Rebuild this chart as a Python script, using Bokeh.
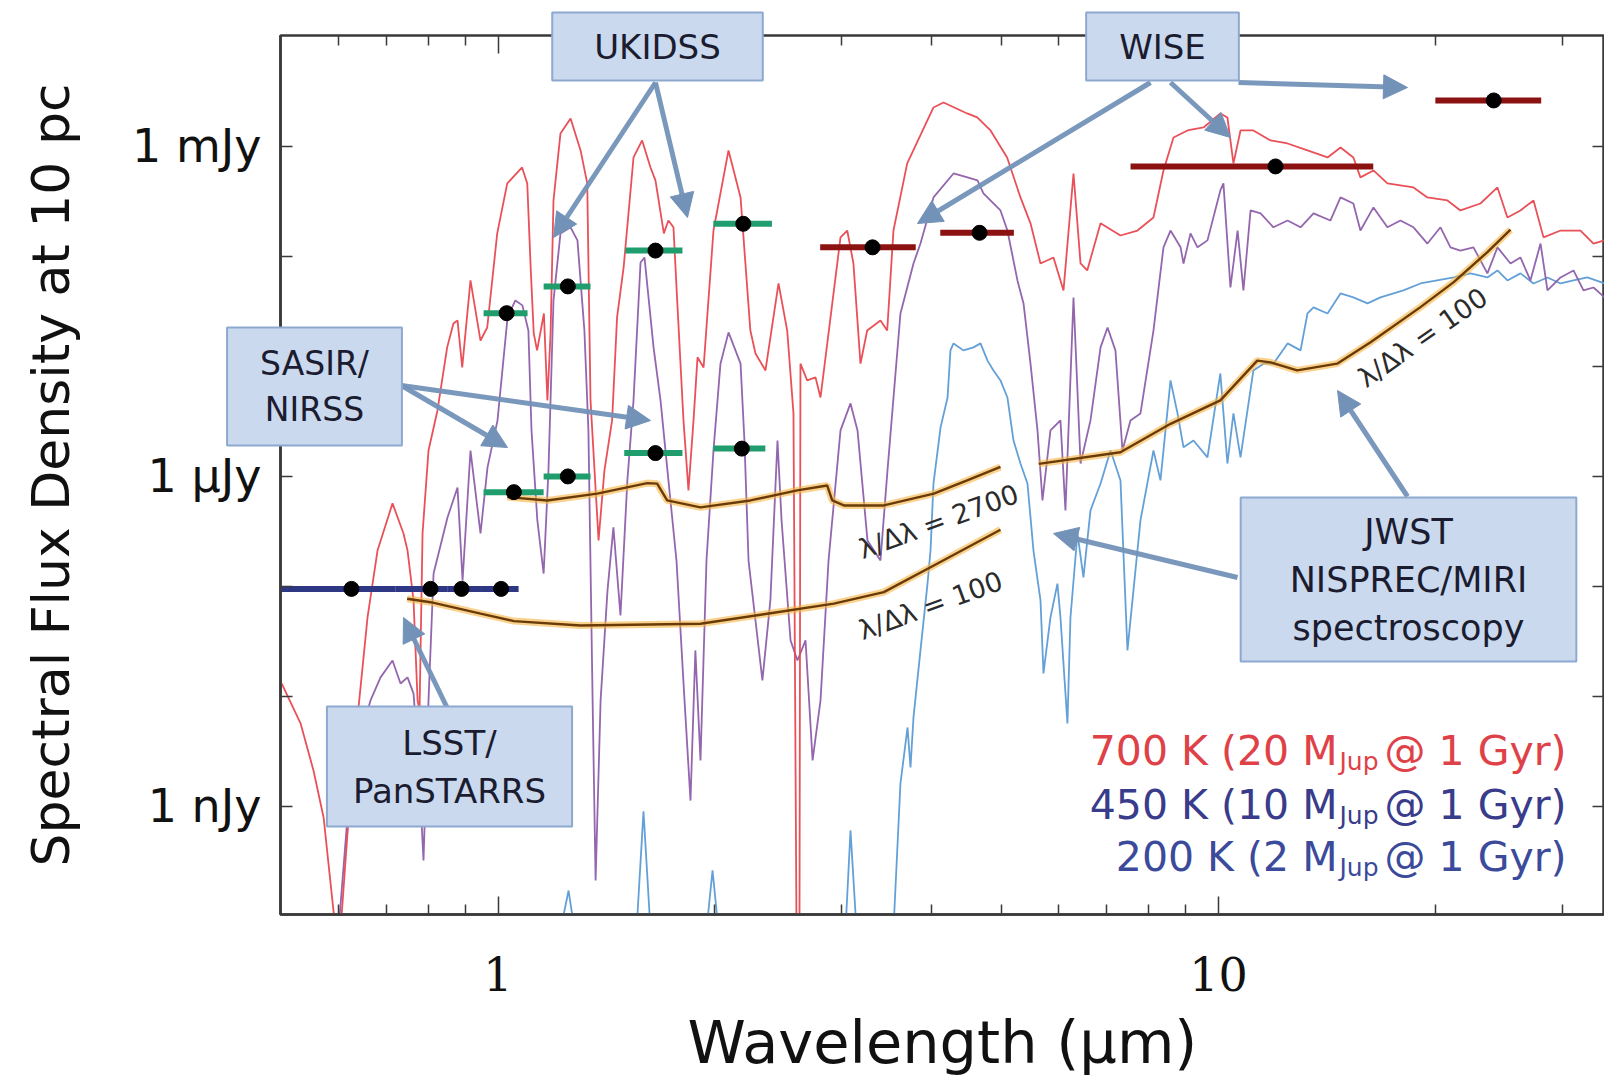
import math
from bokeh.plotting import figure
from bokeh.models import (Range1d, LogAxis, FixedTicker, CustomJSTickFormatter,
                          Label, Arrow, NormalHead, GridBox, Row)
from bokeh.embed import file_html
from bokeh.resources import INLINE

# ---------------- data (wavelength in micron, flux density in microJy) -------------
red_wl = [0.501, 0.532, 0.5545, 0.5727, 0.5856, 0.595, 0.6046, 0.6181, 0.6383, 0.659,
          0.6804, 0.7138, 0.7393, 0.7489, 0.7634, 0.7733, 0.7782, 0.7857, 0.8008, 0.8241,
          0.850, 0.8672, 0.8786, 0.8919, 0.9158, 0.9456, 0.9661, 0.9975, 1.030, 1.080,
          1.098, 1.110, 1.121, 1.133, 1.158, 1.171, 1.183, 1.194, 1.221, 1.261,
          1.302, 1.330, 1.344, 1.379, 1.405, 1.440, 1.463, 1.494, 1.542, 1.585,
          1.628, 1.654, 1.699, 1.724, 1.752, 1.773, 1.809, 1.838, 1.868, 1.892,
          1.929, 1.991, 2.089, 2.171, 2.240, 2.277, 2.351, 2.451, 2.520, 2.571,
          2.596, 2.621, 2.629, 2.686, 2.759, 2.803, 2.988, 3.053, 3.114, 3.185,
          3.254, 3.395, 3.469, 3.539, 3.698, 4.022, 4.153, 4.479, 4.625, 4.826,
          5.089, 5.311, 5.484, 5.662, 5.902, 6.094, 6.292, 6.435, 6.574, 6.860,
          7.311, 7.719, 8.124, 8.388, 8.661, 9.057, 9.533, 10.06, 10.29, 10.49,
          10.73, 11.18, 11.81, 12.47, 13.29, 14.17, 14.77, 15.39, 15.74, 16.41,
          17.16, 18.65, 19.50, 20.79, 21.67, 23.10, 24.39, 25.18, 26.25, 27.37,
          28.26, 29.84, 31.80, 33.15, 34.35]
red_flux = [0.0131, 0.00569, 0.00212, 0.000794, 0.0002, 7.5e-5, 7.5e-5, 0.000569, 0.00644, 0.0522,
            0.212, 0.569, 0.303, 0.212, 0.0746, 0.0092, 0.00746, 0.303, 1.72, 3.98,
            14.9, 24.6, 26.2, 9.79, 60.5, 17.2, 22.6, 162, 461, 644,
            461, 79.4, 20.0, 14.0, 30.3, 4.91, 20.0, 323, 1313, 1797,
            920, 461, 4.91, 0.262, 1.13, 3.23, 27.9, 79.4, 794, 1134,
            644, 491, 162, 212, 184, 39.8, 3.23, 0.746, 3.23, 12.1,
            9.79, 172, 920, 344, 21.2, 13.1, 9.2, 56.8, 21.2, 3.74,
            7.5e-5, 7.5e-5, 10.6, 7.46, 7.94, 5.22, 149, 172, 86.3, 10.6,
            21.2, 26.2, 21.2, 172, 701, 2262, 2512, 1995, 1835, 1398,
            794, 344, 200, 86.3, 97.9, 49.1, 568, 86.3, 74.6, 200,
            155, 172, 226, 605, 1207, 1398, 1488, 1995, 1835, 701,
            1398, 1398, 1134, 1064, 920, 794, 979, 794, 523, 605,
            461, 424, 344, 323, 262, 303, 424, 226, 262, 323,
            149, 172, 172, 131, 140]

purple_wl = [0.6007, 0.6181, 0.6444, 0.6653, 0.6870, 0.7138, 0.7323, 0.7489, 0.7634, 0.7757,
             0.7881, 0.8008, 0.8139, 0.8509, 0.8786, 0.8929, 0.9158, 0.9456, 0.9670, 0.9984,
             1.031, 1.057, 1.081, 1.102, 1.113, 1.134, 1.157, 1.175, 1.194, 1.221,
             1.261, 1.289, 1.318, 1.335, 1.353, 1.366, 1.388, 1.419, 1.446, 1.479,
             1.512, 1.542, 1.577, 1.597, 1.644, 1.681, 1.724, 1.769, 1.815, 1.850,
             1.879, 1.910, 1.947, 1.991, 2.036, 2.089, 2.171, 2.198, 2.227, 2.277,
             2.328, 2.388, 2.443, 2.475, 2.547, 2.604, 2.672, 2.733, 2.803, 2.876,
             2.988, 3.085, 3.155, 3.257, 3.395, 3.472, 3.619, 3.773, 3.858, 4.022,
             4.288, 4.483, 4.629, 4.718, 4.982, 5.094, 5.260, 5.363, 5.484, 5.608,
             5.698, 5.845, 6.035, 6.132, 6.292, 6.435, 6.643, 6.860, 7.015, 7.194,
             7.358, 7.548, 7.793, 8.124, 8.388, 8.579, 8.859, 8.943, 9.145, 9.352,
             9.654, 10.06, 10.16, 10.39, 10.63, 10.83, 11.08, 11.44, 11.92, 12.47,
             13.00, 13.55, 14.30, 14.77, 15.39, 15.74, 16.41, 17.16, 17.89, 18.65,
             19.50, 20.33, 20.99, 21.67, 22.59, 23.62, 24.39, 25.43, 26.25, 27.10,
             27.99, 28.62, 29.84, 31.10, 32.11, 33.15, 34.35]
purple_flux = [7.5e-5, 0.000794, 0.00442, 0.0092, 0.0149, 0.0212, 0.0131, 0.0149, 0.0106, 0.00262,
               0.000323, 0.0092, 0.131, 0.424, 0.794, 0.113, 1.72, 0.303, 1.21, 3.23,
               27.9, 39.8, 35.9, 21.2, 2.62, 0.398, 0.131, 1.13, 39.8, 162,
               184, 140, 21.2, 2.62, 0.0092, 0.000212, 0.0092, 0.092, 0.344, 0.0545,
               0.92, 4.91, 88.2, 97.9, 14.9, 4.91, 0.92, 0.172, 0.0092, 0.00113,
               0.0262, 0.00262, 0.172, 1.72, 10.6, 20.4, 10.6, 2.12, 0.172, 0.049,
               0.014, 0.0746, 2.12, 0.398, 0.0323, 0.0212, 0.0323, 0.00262, 0.0092, 0.172,
               2.62, 4.61, 2.62, 0.262, 0.172, 1.13, 30.3, 86.3, 131, 344,
               568, 523, 491, 374, 262, 172, 60.5, 37.4, 10.6, 2.62,
               0.605, 2.62, 3.23, 0.491, 42.4, 1.31, 3.23, 14.9, 22.6, 14.0,
               1.72, 3.23, 3.74, 21.2, 121, 172, 121, 86.3, 162, 121,
               140, 398, 461, 52.2, 172, 49.1, 262, 246, 184, 212,
               184, 246, 212, 344, 303, 172, 279, 184, 212, 184,
               131, 184, 121, 113, 121, 70.1, 121, 86.3, 97.9, 60.5,
               131, 49.1, 64.4, 74.6, 49.1, 52.2, 42.4]

blue_wl = [1.221, 1.253, 1.277, 1.557, 1.592, 1.628, 1.947, 1.985, 2.023, 3.036,
           3.085, 3.145, 3.539, 3.619, 3.702, 3.737, 3.773, 3.858, 3.946, 3.984,
           4.022, 4.114, 4.207, 4.246, 4.288, 4.426, 4.571, 4.674, 4.780, 4.872,
           4.982, 5.094, 5.194, 5.311, 5.431, 5.484, 5.536, 5.662, 5.716, 5.845,
           5.977, 6.035, 6.171, 6.231, 6.372, 6.495, 6.643, 6.860, 7.083, 7.311,
           7.476, 7.793, 8.124, 8.308, 8.579, 8.773, 8.943, 9.233, 9.654, 10.06,
           10.29, 10.49, 10.73, 11.18, 11.55, 11.92, 12.47, 13.00, 13.29, 13.55,
           14.17, 14.77, 15.39, 16.10, 16.78, 18.06, 19.07, 21.21, 22.38, 23.62,
           24.39, 25.18, 26.25, 27.37, 28.62, 29.84, 31.10, 32.52, 34.35]
blue_flux = [7.5e-5, 0.000172, 7.5e-5, 7.5e-5, 0.000901, 7.5e-5, 7.5e-5, 0.000262, 7.5e-5, 7.5e-5,
             0.000605, 7.5e-5, 7.5e-5, 0.00162, 0.00522, 0.00226, 0.00644, 0.0262, 0.106, 0.212,
             0.863, 2.79, 5.22, 14.0, 16.2, 14.0, 14.9, 16.2, 11.3, 9.2,
             7.46, 5.22, 2.12, 1.31, 0.863, 0.424, 0.212, 0.0746, 0.0162, 0.0522,
             0.106, 0.0522, 0.00569, 0.0522, 0.303, 0.121, 0.491, 0.863, 1.72, 0.92,
             0.0262, 0.398, 1.72, 0.92, 7.46, 3.74, 1.84, 2.12, 1.49, 8.63,
             1.31, 3.74, 1.49, 9.2, 10.6, 10.6, 16.2, 14.0, 30.3, 34.4,
             30.3, 46.1, 42.4, 37.4, 42.4, 49.1, 56.8, 64.4, 70.1, 64.4,
             74.6, 60.5, 70.1, 56.8, 64.4, 56.8, 60.5, 64.4, 56.8]

# sensitivity curves
nirspec_r2700_wl = [1.030, 1.170, 1.373, 1.611, 1.663, 1.717, 1.910, 2.241, 2.602, 2.863,
                    2.910, 3.02, 3.432, 4.026, 4.479, 4.982]
nirspec_r2700_flux = [0.649, 0.605, 0.697, 0.87, 0.86, 0.605, 0.523, 0.605, 0.746, 0.828,
                      0.605, 0.545, 0.545, 0.697, 0.92, 1.22]
nirspec_r100_wl = [0.748, 0.806, 0.946, 1.052, 1.302, 1.910, 2.364, 2.925, 3.432, 4.026, 4.982]
nirspec_r100_flux = [0.0773, 0.0719, 0.0565, 0.0484, 0.0442, 0.0458, 0.0565, 0.0697, 0.0887,
                     0.155, 0.328]
miri_r100_wl = [5.63, 7.31, 8.58, 10.06, 11.32, 11.81, 12.86, 14.61, 16.26, 19.07, 21.21,
                23.60, 25.43]
miri_r100_flux = [1.30, 1.66, 3.01, 4.91, 11.3, 10.9, 9.2, 10.6, 16.6, 34.6, 58.4, 109, 175]

# survey limits (centre, band edges, flux)
lsst_wl = [0.626, 0.806, 0.89, 1.01]
lsst_lo = [0.50, 0.72, 0.85, 0.95]
lsst_hi = [0.72, 0.85, 0.95, 1.068]
lsst_flux = [0.095, 0.095, 0.095, 0.095]

ukidss_wl = [1.028, 1.25, 1.654, 2.19]
ukidss_lo = [0.955, 1.157, 1.503, 1.99]
ukidss_hi = [1.099, 1.344, 1.803, 2.40]
ukidss_flux = [30.5, 53.4, 113, 198]

sasir_wl = [1.052, 1.25, 1.654, 2.18]
sasir_lo = [0.955, 1.157, 1.497, 1.99]
sasir_hi = [1.157, 1.344, 1.803, 2.35]
sasir_flux = [0.72, 1.0, 1.63, 1.79]

wise_wl = [3.31, 4.66, 12.0, 24.1]
wise_lo = [2.80, 4.11, 7.55, 20.0]
wise_hi = [3.80, 5.20, 16.4, 28.05]
wise_flux = [121, 164, 658, 2618]

y_tick_values = [1e-3, 1e-2, 1e-1, 1, 10, 100, 1000]
x_major_ticks = [1, 10]
x_minor_ticks = [0.6, 0.7, 0.8, 0.9, 2, 3, 4, 5, 6, 7, 8, 9, 20, 30]

# ---------------- layout constants ----------------
W, H = 1604, 1078
X_LO, X_HI = 0.499, 34.34
Y_LO, Y_HI = 1.041e-4, 1.02e4
FL, FT, FW, FH = 280, 35, 1324, 879   # frame placement on the page (px)


def at(px, py):
    """page pixel -> data coordinates (for annotation placement only)"""
    lx = math.log10(X_LO) + (px - FL) * math.log10(X_HI / X_LO) / FW
    ly = math.log10(Y_HI) - (py - FT) * math.log10(Y_HI / Y_LO) / FH
    return 10 ** lx, 10 ** ly


AX = "#3a3a3a"
p = figure(frame_width=FW, frame_height=FH, x_axis_type="log", y_axis_type="log",
           x_range=Range1d(X_LO, X_HI), y_range=Range1d(Y_LO, Y_HI),
           output_backend="svg", toolbar_location=None,
           min_border_left=FL, min_border_right=0, min_border_top=FT,
           min_border_bottom=H - FT - FH)
p.background_fill_color = "white"
p.border_fill_color = "white"
p.outline_line_color = AX
p.outline_line_width = 2.5
p.xgrid.visible = False
p.ygrid.visible = False

p.xaxis.ticker = FixedTicker(ticks=x_major_ticks, minor_ticks=x_minor_ticks)
p.xaxis.formatter = CustomJSTickFormatter(code="return String(Math.round(tick));")
p.xaxis.major_label_text_font = "DejaVu Serif"
p.xaxis.major_label_text_font_size = "46px"
p.xaxis.major_label_text_color = "#111111"
p.xaxis.major_label_standoff = 42
p.xaxis.axis_label = "Wavelength (µm)"
p.xaxis.axis_label_text_font = "DejaVu Sans"
p.xaxis.axis_label_text_font_size = "59px"
p.xaxis.axis_label_text_font_style = "normal"
p.xaxis.axis_label_text_color = "#111111"
p.xaxis.axis_label_standoff = 14
p.xaxis.major_tick_in = 18
p.xaxis.major_tick_out = 0
p.xaxis.minor_tick_in = 10
p.xaxis.minor_tick_out = 0

p.yaxis.ticker = FixedTicker(ticks=y_tick_values, minor_ticks=[])
p.yaxis.formatter = CustomJSTickFormatter(code="""
const e = Math.round(Math.log10(tick));
if (e == 3) return "1 mJy";
if (e == 0) return "1 µJy";
if (e == -3) return "1 nJy";
return "";
""")
p.yaxis.major_label_text_font = "DejaVu Sans"
p.yaxis.major_label_text_font_size = "46px"
p.yaxis.major_label_text_color = "#111111"
p.yaxis.major_label_standoff = 19
p.yaxis.axis_label = "Spectral Flux Density at 10 pc"
p.yaxis.axis_label_text_font = "DejaVu Sans"
p.yaxis.axis_label_text_font_size = "52px"
p.yaxis.axis_label_text_font_style = "normal"
p.yaxis.axis_label_text_color = "#111111"
p.yaxis.axis_label_standoff = 48
p.yaxis.major_tick_in = 12
p.yaxis.major_tick_out = 0
p.yaxis.minor_tick_in = 0
p.yaxis.minor_tick_out = 0

for ax in (p.xaxis[0], p.yaxis[0]):
    ax.axis_line_color = AX
    ax.axis_line_width = 2.5
    ax.major_tick_line_color = AX
    ax.major_tick_line_width = 1.5
    ax.minor_tick_line_color = AX
    ax.minor_tick_line_width = 1.5

top = LogAxis(ticker=FixedTicker(ticks=x_major_ticks, minor_ticks=x_minor_ticks),
              formatter=CustomJSTickFormatter(code="return '';"),
              major_tick_in=18, major_tick_out=0, minor_tick_in=10, minor_tick_out=0,
              axis_line_color=None,
              major_tick_line_color=AX, minor_tick_line_color=AX,
              major_tick_line_width=1.5, minor_tick_line_width=1.5)
p.add_layout(top, "above")

right = LogAxis(ticker=FixedTicker(ticks=y_tick_values, minor_ticks=[]),
                formatter=CustomJSTickFormatter(code="return '';"),
                major_tick_in=12, major_tick_out=0, minor_tick_in=0, minor_tick_out=0,
                major_label_standoff=0, axis_line_color=None,
                major_tick_line_color=AX, major_tick_line_width=1.5)
p.add_layout(right, "right")

# ---------------- spectra ----------------
p.line(blue_wl, blue_flux, line_color="#5b9bd5", line_width=1.8, line_alpha=0.95)
p.line(purple_wl, purple_flux, line_color="#8d5eaa", line_width=1.8, line_alpha=0.95)
p.line(red_wl, red_flux, line_color="#e8474f", line_width=1.8, line_alpha=0.95)

# sensitivity curves (orange glow + dark core)
for wl, fl in ((nirspec_r2700_wl, nirspec_r2700_flux),
               (nirspec_r100_wl, nirspec_r100_flux),
               (miri_r100_wl, miri_r100_flux)):
    p.line(wl, fl, line_color="#f7b443", line_width=7, line_alpha=0.6)
    p.line(wl, fl, line_color="#6a3b06", line_width=2.4)

# survey limits
for lo, hi, wl, fl, col in ((lsst_lo, lsst_hi, lsst_wl, lsst_flux, "#2d3784"),
                            (ukidss_lo, ukidss_hi, ukidss_wl, ukidss_flux, "#1f9d6c"),
                            (sasir_lo, sasir_hi, sasir_wl, sasir_flux, "#1f9d6c"),
                            (wise_lo, wise_hi, wise_wl, wise_flux, "#8c1212")):
    p.segment(x0=lo, y0=fl, x1=hi, y1=fl, line_color=col, line_width=6)
    p.scatter(x=wl, y=fl, size=15, fill_color="black", line_color="black")

# ---------------- annotation texts on curves ----------------
TXT = "#2b2b2b"
for text, (px, py), ang in (("λ/Δλ = 2700", (938, 521), 20),
                            ("λ/Δλ = 100", (930, 605), 20),
                            ("λ/Δλ = 100", (1422, 337), 35)):
    x, y = at(px, py)
    p.add_layout(Label(x=x, y=y, text=text, angle=ang, angle_units="deg",
                       text_font="DejaVu Sans", text_font_size="27px", text_color=TXT,
                       text_align="center", text_baseline="middle"))

# ---------------- arrows ----------------
AC = "#7392b8"
arrows = [((655, 82), (553, 237)), ((655, 82), (687, 217)),
          ((1150, 82), (917, 223)), ((1170, 82), (1230, 137)), ((1238, 82), (1407, 87)),
          ((401, 385), (507, 447)), ((401, 385), (650, 420)),
          ((447, 708), (403, 617)),
          ((1407, 496), (1337, 390)), ((1237, 577), (1053, 533))]
for (sx, sy), (ex, ey) in arrows:
    x0, y0 = at(sx, sy)
    x1, y1 = at(ex, ey)
    p.add_layout(Arrow(x_start=x0, y_start=y0, x_end=x1, y_end=y1,
                       line_color=AC, line_width=5, line_alpha=0.95,
                       end=NormalHead(size=24, fill_color=AC, line_color=AC)))

# ---------------- model legend ----------------
legend_rows = [("700 K (20 M", " @ 1 Gyr)", "#df4148", 750),
               ("450 K (10 M", " @ 1 Gyr)", "#393b8b", 804),
               ("200 K (2 M", " @ 1 Gyr)", "#3b4a9b", 856)]
for head, tail, col, base in legend_rows:
    x, y = at(1337, base)
    p.add_layout(Label(x=x, y=y, text=head, text_font="DejaVu Sans", text_font_size="41px",
                       text_color=col, text_align="right", text_baseline="alphabetic"))
    x, y = at(1339, base + 11)
    p.add_layout(Label(x=x, y=y, text="Jup", text_font="DejaVu Sans", text_font_size="25px",
                       text_color=col, text_align="left", text_baseline="alphabetic"))
    x, y = at(1384, base)
    p.add_layout(Label(x=x, y=y, text=tail, text_font="DejaVu Sans", text_font_size="41px",
                       text_color=col, text_align="left", text_baseline="alphabetic"))

# ---------------- call-out boxes: transparent overlay spanning the whole page -------------
ox0, oy1 = at(0, 0)
ox1, oy0 = at(W, H)
ov = figure(width=W, height=H, x_axis_type="log", y_axis_type="log",
            x_range=Range1d(ox0, ox1), y_range=Range1d(oy0, oy1),
            output_backend="svg", toolbar_location=None,
            x_axis_location=None, y_axis_location=None,
            min_border_left=0, min_border_right=0, min_border_top=0, min_border_bottom=0)
ov.background_fill_alpha = 0
ov.border_fill_alpha = 0
ov.outline_line_color = None
ov.grid.visible = False

BOX_FILL = "#cad9ee"
BOX_LINE = "#8ea9cf"
boxes = [("UKIDSS", (657, 46), 34, 42, 14),
         ("WISE", (1162, 46), 34, 33, 14),
         ("SASIR/\nNIRSS", (314, 386), 33, 33, 16),
         ("LSST/\nPanSTARRS", (449, 766), 34, 26, 16),
         ("JWST\nNISPREC/MIRI\nspectroscopy", (1408, 579), 35, 49, 14)]
for text, (px, py), fs, padx, pady in boxes:
    sx, sy = at(px + 4, py + 5)
    ov.add_layout(Label(x=sx, y=sy, text=text, text_font="DejaVu Sans",
                        text_font_size=f"{fs}px", text_alpha=0.0,
                        text_align="center", text_baseline="middle",
                        background_fill_color="#8c8c8c", background_fill_alpha=0.35,
                        padding=(padx, pady)))
    x, y = at(px, py)
    ov.add_layout(Label(x=x, y=y, text=text, text_font="DejaVu Sans",
                        text_font_size=f"{fs}px", text_color="#1b1c30",
                        text_align="center", text_baseline="middle",
                        background_fill_color=BOX_FILL, background_fill_alpha=1.0,
                        border_line_color=BOX_LINE, border_line_width=2,
                        padding=(padx, pady)))

page = GridBox(children=[(p, 0, 0), (Row(children=[ov]), 0, 0)])
open("out.html", "w").write(file_html(page, INLINE))
